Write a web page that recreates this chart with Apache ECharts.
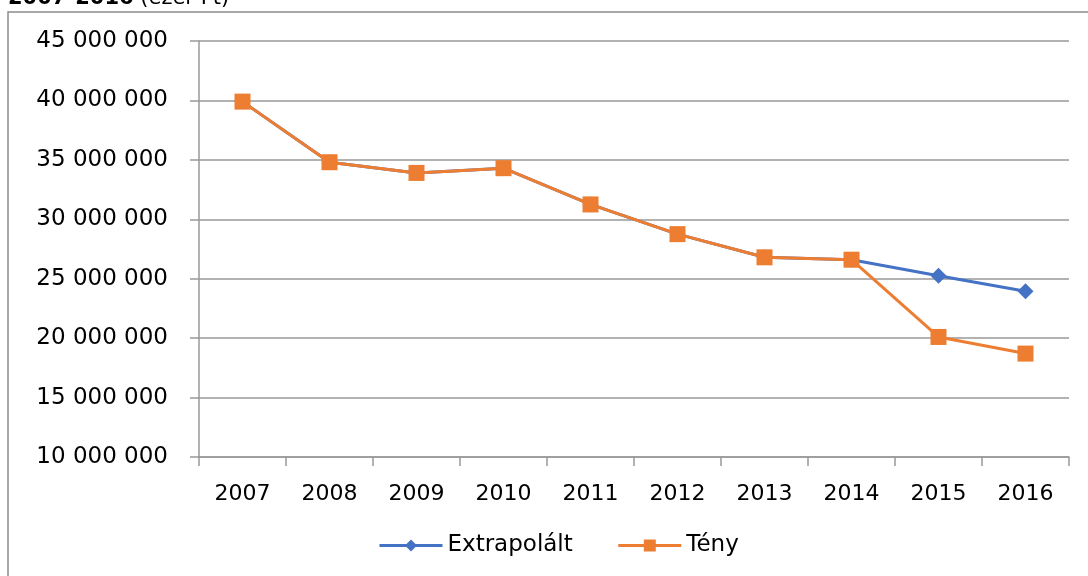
<!DOCTYPE html>
<html>
<head>
<meta charset="utf-8">
<script src="https://cdn.jsdelivr.net/npm/echarts@6/dist/echarts.min.js"></script>
<style>
html,body{margin:0;padding:0;background:#fff;}
#c{width:1088px;height:576px;}
</style>
</head>
<body>
<div id="c"></div>
<script>
var categories = ['2007','2008','2009','2010','2011','2012','2013','2014','2015','2016'];
var extrapolalt = [39900000,34800000,33900000,34300000,31250000,28750000,26800000,26600000,25250000,23950000];
var teny = [39900000,34800000,33900000,34300000,31250000,28750000,26800000,26600000,20100000,18700000];
var yTicks = {min:10000000, max:45000000, interval:5000000};

function fmt(v){
  return String(v).replace(/\B(?=(\d{3})+(?!\d))/g,' ');
}
var FONT = 'DejaVu Sans';
var chart = echarts.init(document.getElementById('c'));
chart.setOption({
  animation:false,
  backgroundColor:'#fff',
  textStyle:{fontFamily:FONT},
  graphic:[
    {type:'rect', shape:{x:8,y:12,width:1200,height:700}, style:{fill:'none',stroke:'#8c8c8c',lineWidth:1.5}, z:-1},
    {type:'text', x:8, y:9, style:{text:'{b|2007-2016} (ezer Ft)', rich:{b:{fontWeight:'bold',fontSize:21,fontFamily:FONT,fill:'#000'}}, fontSize:21, fontFamily:FONT, fill:'#000', verticalAlign:'bottom'}}
  ],
  grid:{left:199,right:19,top:41,bottom:119},
  legend:{
    bottom:19, left:378, padding:0,
    itemWidth:63, itemHeight:15, itemGap:44,
    textStyle:{fontSize:23, fontFamily:FONT, color:'#000', padding:[0,0,0,0]},
    data:[{name:'Extrapolált', lineStyle:{width:3}},{name:'Tény', lineStyle:{width:3}}]
  },
  xAxis:{
    type:'category', data:categories, boundaryGap:true,
    axisLine:{lineStyle:{color:'#999',width:1.5}},
    axisTick:{show:true,length:9,lineStyle:{color:'#999',width:1.5}},
    axisLabel:{fontSize:22, color:'#000', margin:26, fontFamily:FONT}
  },
  yAxis:{
    type:'value', min:yTicks.min, max:yTicks.max, interval:yTicks.interval,
    axisLine:{show:true,lineStyle:{color:'#999',width:1.5}},
    axisTick:{show:true,length:9,lineStyle:{color:'#999',width:1.5}},
    splitLine:{lineStyle:{color:'#999',width:1.5}},
    axisLabel:{fontSize:23, color:'#000', margin:31, fontFamily:FONT, formatter:fmt}
  },
  series:[
    {name:'Extrapolált', type:'line', data:extrapolalt, symbol:'diamond', symbolSize:16,
     lineStyle:{color:'#4472C4',width:3}, itemStyle:{color:'#4472C4'}},
    {name:'Tény', type:'line', data:teny, symbol:'rect', symbolSize:16,
     lineStyle:{color:'#ED7D31',width:3}, itemStyle:{color:'#ED7D31'}}
  ]
});
</script>
</body>
</html>
